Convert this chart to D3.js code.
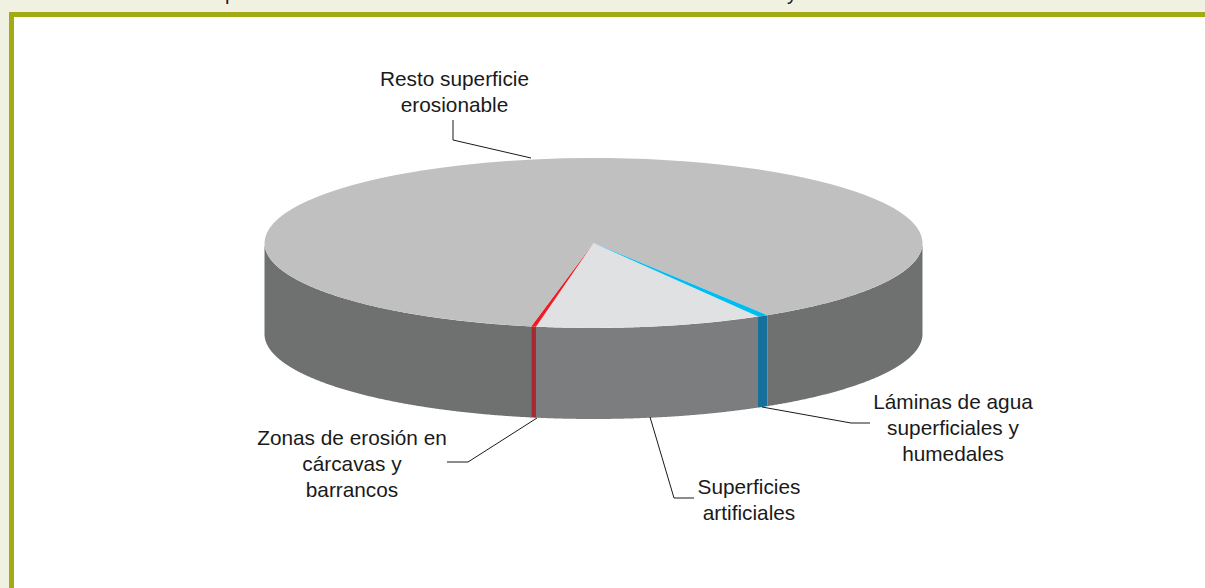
<!DOCTYPE html>
<html>
<head>
<meta charset="utf-8">
<script src="https://d3js.org/d3.v7.min.js"></script>
<style>
html, body { margin: 0; padding: 0; background: #f0f1e1; overflow: hidden; }
</style>
</head>
<body>
<div id="chart"></div>
<script>
var categories = ["Superficies artificiales", "Zonas de erosión en cárcavas y barrancos", "Resto superficie erosionable", "Láminas de agua superficiales y humedales"];
var shares = [11.13, 0.24, 88.1, 0.53];
var topColors = ["#e0e1e3", "#ee1c25", "#c0c0c0", "#00bdf0"];
var sideColors = ["#7c7d7f", "#a72a33", "#6e7170", "#16709b"];

var labelLines = [
	["Superficies", "artificiales"],
	["Zonas de erosión en", "cárcavas y", "barrancos"],
	["Resto superficie", "erosionable"],
	["Láminas de agua", "superficiales y", "humedales"]
];

// only the descenders of the cut-off heading line show above the frame
var headingGlyphs = ["p", "y"];

var config = {
	canvasWidth: 1205,
	canvasHeight: 588,
	pageColor: "#f0f1e1",
	frameColor: "#a3ab12",
	frameLeft: 9,
	frameTop: 12,
	frameStroke: 5,
	pieX: 593.5,
	pieY: 243,
	radiusX: 329,
	radiusY: 85,
	depth: 91,
	startDegrees: 150,
	labelFontSize: 20.8,
	labelLineHeight: 26,
	labelFontFamily: "'Liberation Sans', Arial, sans-serif"
};

// label anchor (centre x, first baseline) and leader line for each slice
var labelPlaces = [
	{ x: 749, y: 494, leader: [[650, 417], [674, 498], [694, 498]] },
	{ x: 352, y: 445, leader: [[537, 418], [468, 462], [447, 462]] },
	{ x: 454.5, y: 85.5, leader: [[531, 158], [453, 140], [453, 120]] },
	{ x: 953, y: 409, leader: [[762, 407], [851, 423], [870, 423]] }
];
var headingPlaces = [225, 787];

var canvas = d3.select("#chart").append("svg")
	.attr("class", "canvas")
	.attr("width", config.canvasWidth)
	.attr("height", config.canvasHeight)
	.style("display", "block");

canvas.append("g").attr("class", "heading")
	.selectAll("text")
	.data(headingGlyphs)
	.enter()
	.append("text")
	.attr("x", function (d, i) { return headingPlaces[i]; })
	.attr("y", 0)
	.attr("font-family", config.labelFontFamily)
	.attr("font-size", 20)
	.attr("fill", "#1a1a1a")
	.text(function (d) { return d; });

// white panel with the olive frame, open to the right and the bottom
canvas.append("rect")
	.attr("class", "panel")
	.attr("x", config.frameLeft + config.frameStroke / 2)
	.attr("y", config.frameTop + config.frameStroke / 2)
	.attr("width", config.canvasWidth + 20)
	.attr("height", config.canvasHeight + 20)
	.attr("fill", "#ffffff")
	.attr("stroke", config.frameColor)
	.attr("stroke-width", config.frameStroke);

var startAngle = config.startDegrees * Math.PI / 180;
var slices = d3.pie().sort(null).startAngle(startAngle).endAngle(startAngle + 2 * Math.PI)(shares);

var scaleX = function (a) { return config.pieX + config.radiusX * Math.sin(a); };
var scaleY = function (a) { return config.pieY - config.radiusY * Math.cos(a); };

// outer wall of the disc: only the part facing the viewer
var wall = d3.area()
	.defined(function (a) { return Math.cos(a) <= 0.001; })
	.x(scaleX)
	.y0(scaleY)
	.y1(function (a) { return scaleY(a) + config.depth; });

canvas.append("g").attr("class", "walls")
	.selectAll("path")
	.data(slices)
	.enter()
	.append("path")
	.attr("fill", function (d) { return sideColors[d.index]; })
	.attr("d", function (d) {
		var n = Math.ceil((d.endAngle - d.startAngle) / 0.004);
		var angles = d3.range(n + 1).map(function (i) { return d.startAngle + (d.endAngle - d.startAngle) * i / n; });
		return wall(angles);
	});

var arc = d3.arc().innerRadius(0).outerRadius(config.radiusX);

canvas.append("g").attr("class", "tops")
	.attr("transform", "translate(" + config.pieX + "," + config.pieY + ") scale(1," + (config.radiusY / config.radiusX) + ")")
	.selectAll("path")
	.data(slices)
	.enter()
	.append("path")
	.attr("fill", function (d) { return topColors[d.index]; })
	.attr("d", arc);

var leader = d3.line();

canvas.append("g").attr("class", "leaders")
	.selectAll("path")
	.data(labelPlaces)
	.enter()
	.append("path")
	.attr("fill", "none")
	.attr("stroke", "#1a1a1a")
	.attr("stroke-width", 1)
	.attr("d", function (d) { return leader(d.leader); });

canvas.append("g").attr("class", "labels")
	.selectAll("text")
	.data(categories)
	.enter()
	.append("text")
	.attr("text-anchor", "middle")
	.attr("font-family", config.labelFontFamily)
	.attr("font-size", config.labelFontSize)
	.attr("fill", "#1a1a1a")
	.each(function (d, i) {
		d3.select(this).selectAll("tspan")
			.data(labelLines[i])
			.enter()
			.append("tspan")
			.attr("x", labelPlaces[i].x)
			.attr("y", function (line, j) { return labelPlaces[i].y + j * config.labelLineHeight; })
			.text(function (line) { return line; });
	});
</script>
</body>
</html>
